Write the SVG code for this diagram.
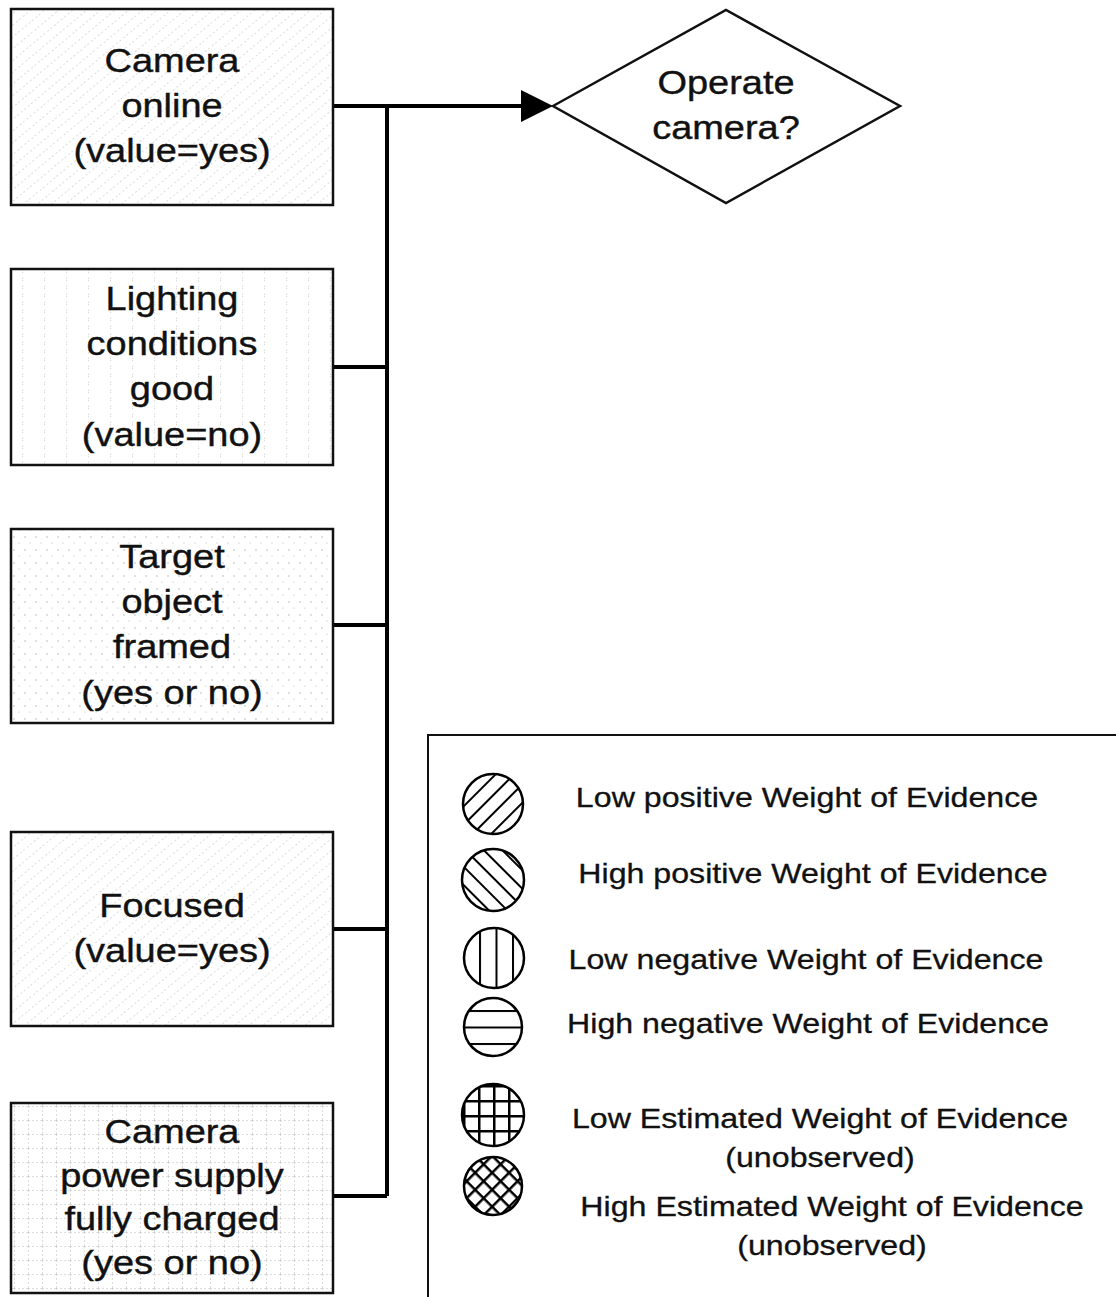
<svg xmlns="http://www.w3.org/2000/svg" width="1116" height="1297" viewBox="0 0 1116 1297">
<style>
.box{stroke:#111;stroke-width:2.5}
.t{font-family:"Liberation Sans",Arial,sans-serif;font-size:33px;fill:#111;stroke:#111;stroke-width:0.4;text-anchor:middle}
.lt{font-family:"Liberation Sans",Arial,sans-serif;font-size:27.5px;fill:#111;stroke:#111;stroke-width:0.3;text-anchor:middle}
.wire{stroke:#000;stroke-width:4;fill:none}
.sym{stroke:#000;stroke-width:2.5}
</style>
<defs>
<marker id="arr" markerWidth="8" markerHeight="8" refX="7" refY="4" orient="auto" markerUnits="strokeWidth"><path d="M0,0 L8,4 L0,8 Z" fill="#000"/></marker>
<pattern id="fdiag" width="9" height="9" patternUnits="userSpaceOnUse" patternTransform="rotate(50)"><rect width="9" height="9" fill="#fff"/><line x1="0" y1="0" x2="0" y2="9" stroke="#bbb" stroke-width="1" stroke-dasharray="2 3"/></pattern>
<pattern id="fvert" width="22" height="8" patternUnits="userSpaceOnUse"><rect width="22" height="8" fill="#fff"/><line x1="0" y1="0" x2="0" y2="8" stroke="#bbb" stroke-width="1" stroke-dasharray="1.5 4"/></pattern>
<pattern id="fdots" width="11" height="13" patternUnits="userSpaceOnUse"><rect width="11" height="13" fill="#fff"/><circle cx="3" cy="4" r="0.7" fill="#aaa"/><circle cx="8" cy="10" r="0.6" fill="#bbb"/></pattern>
<pattern id="fgrid" width="14" height="14" patternUnits="userSpaceOnUse"><rect width="14" height="14" fill="#fff"/><path d="M0,0 V14 M0,0 H14" stroke="#bbb" stroke-width="1" stroke-dasharray="2 2"/></pattern>
<pattern id="pfwd" width="13" height="13" patternUnits="userSpaceOnUse" patternTransform="rotate(45)"><rect width="13" height="13" fill="#fff"/><line x1="0" y1="0" x2="0" y2="13" stroke="#000" stroke-width="4"/></pattern>
<pattern id="pback" width="13" height="13" patternUnits="userSpaceOnUse" patternTransform="rotate(-45)"><rect width="13" height="13" fill="#fff"/><line x1="0" y1="0" x2="0" y2="13" stroke="#000" stroke-width="4"/></pattern>
<pattern id="pvert" width="16.5" height="20" x="479" patternUnits="userSpaceOnUse"><rect width="16.5" height="20" fill="#fff"/><line x1="0" y1="0" x2="0" y2="20" stroke="#000" stroke-width="4"/></pattern>
<pattern id="phor" width="20" height="16.5" y="1010" patternUnits="userSpaceOnUse"><rect width="20" height="16.5" fill="#fff"/><line x1="0" y1="0" x2="20" y2="0" stroke="#000" stroke-width="4"/></pattern>
<pattern id="pgrid" width="15" height="15" x="478" y="1100" patternUnits="userSpaceOnUse"><rect width="15" height="15" fill="#fff"/><path d="M0,0 V15 M0,0 H15" stroke="#000" stroke-width="5"/></pattern>
<pattern id="pcross" width="12" height="12" patternUnits="userSpaceOnUse" patternTransform="rotate(45)"><rect width="12" height="12" fill="#fff"/><path d="M0,0 V12 M0,0 H12" stroke="#000" stroke-width="5"/></pattern>
</defs>

<g id="connectors">
<line class="wire" x1="387" y1="106" x2="387" y2="1196"/>
<line class="wire" x1="333" y1="106" x2="387" y2="106"/>
<line class="wire" x1="333" y1="367" x2="387" y2="367"/>
<line class="wire" x1="333" y1="625" x2="387" y2="625"/>
<line class="wire" x1="333" y1="929" x2="387" y2="929"/>
<line class="wire" x1="333" y1="1196" x2="387" y2="1196"/>
<path class="wire" d="M385,106 H549" marker-end="url(#arr)"/>
</g>

<g id="node-camera-online">
<rect class="box" x="11" y="9" width="322" height="196" fill="url(#fdiag)"/>
<text class="t" transform="translate(172 72) scale(1.15 1)">Camera</text>
<text class="t" transform="translate(172 117) scale(1.15 1)">online</text>
<text class="t" transform="translate(172 162) scale(1.15 1)">(value=yes)</text>
</g>

<g id="node-lighting">
<rect class="box" x="11" y="269" width="322" height="196" fill="url(#fvert)"/>
<text class="t" transform="translate(172 310) scale(1.15 1)">Lighting</text>
<text class="t" transform="translate(172 355) scale(1.15 1)">conditions</text>
<text class="t" transform="translate(172 400) scale(1.15 1)">good</text>
<text class="t" transform="translate(172 446) scale(1.15 1)">(value=no)</text>
</g>

<g id="node-target">
<rect class="box" x="11" y="529" width="322" height="194" fill="url(#fdots)"/>
<text class="t" transform="translate(172 568) scale(1.15 1)">Target</text>
<text class="t" transform="translate(172 613) scale(1.15 1)">object</text>
<text class="t" transform="translate(172 658) scale(1.15 1)">framed</text>
<text class="t" transform="translate(172 704) scale(1.15 1)">(yes or no)</text>
</g>

<g id="node-focused">
<rect class="box" x="11" y="832" width="322" height="194" fill="url(#fdiag)"/>
<text class="t" transform="translate(172 917) scale(1.15 1)">Focused</text>
<text class="t" transform="translate(172 962) scale(1.15 1)">(value=yes)</text>
</g>

<g id="node-power">
<rect class="box" x="11" y="1103" width="322" height="190" fill="url(#fgrid)"/>
<text class="t" transform="translate(172 1143) scale(1.15 1)">Camera</text>
<text class="t" transform="translate(172 1187) scale(1.15 1)">power supply</text>
<text class="t" transform="translate(172 1230) scale(1.15 1)">fully charged</text>
<text class="t" transform="translate(172 1274) scale(1.15 1)">(yes or no)</text>
</g>

<g id="node-operate">
<polygon points="553,106 726,10 900,106 726,203" fill="#fff" stroke="#111" stroke-width="2.5"/>
<text class="t" transform="translate(726 94) scale(1.15 1)">Operate</text>
<text class="t" transform="translate(726 139) scale(1.15 1)">camera?</text>
</g>

<g id="legend">
<path d="M428,1297 V735 H1116" fill="none" stroke="#111" stroke-width="2"/>
<circle class="sym" cx="493" cy="804" r="30" fill="url(#pfwd)"/>
<circle class="sym" cx="493" cy="880" r="31" fill="url(#pback)"/>
<circle class="sym" cx="494" cy="958" r="30" fill="url(#pvert)"/>
<circle class="sym" cx="493" cy="1027" r="29" fill="url(#phor)"/>
<circle class="sym" cx="493" cy="1115" r="31" fill="url(#pgrid)"/>
<circle class="sym" cx="493" cy="1186" r="29" fill="url(#pcross)"/>
<text class="lt" transform="translate(807 807) scale(1.17 1)">Low positive Weight of Evidence</text>
<text class="lt" transform="translate(813 883) scale(1.17 1)">High positive Weight of Evidence</text>
<text class="lt" transform="translate(806 969) scale(1.17 1)">Low negative Weight of Evidence</text>
<text class="lt" transform="translate(808 1033) scale(1.17 1)">High negative Weight of Evidence</text>
<text class="lt" transform="translate(820 1128) scale(1.17 1)">Low Estimated Weight of Evidence</text>
<text class="lt" transform="translate(820 1167) scale(1.17 1)">(unobserved)</text>
<text class="lt" transform="translate(832 1216) scale(1.17 1)">High Estimated Weight of Evidence</text>
<text class="lt" transform="translate(832 1255) scale(1.17 1)">(unobserved)</text>
</g>
</svg>
